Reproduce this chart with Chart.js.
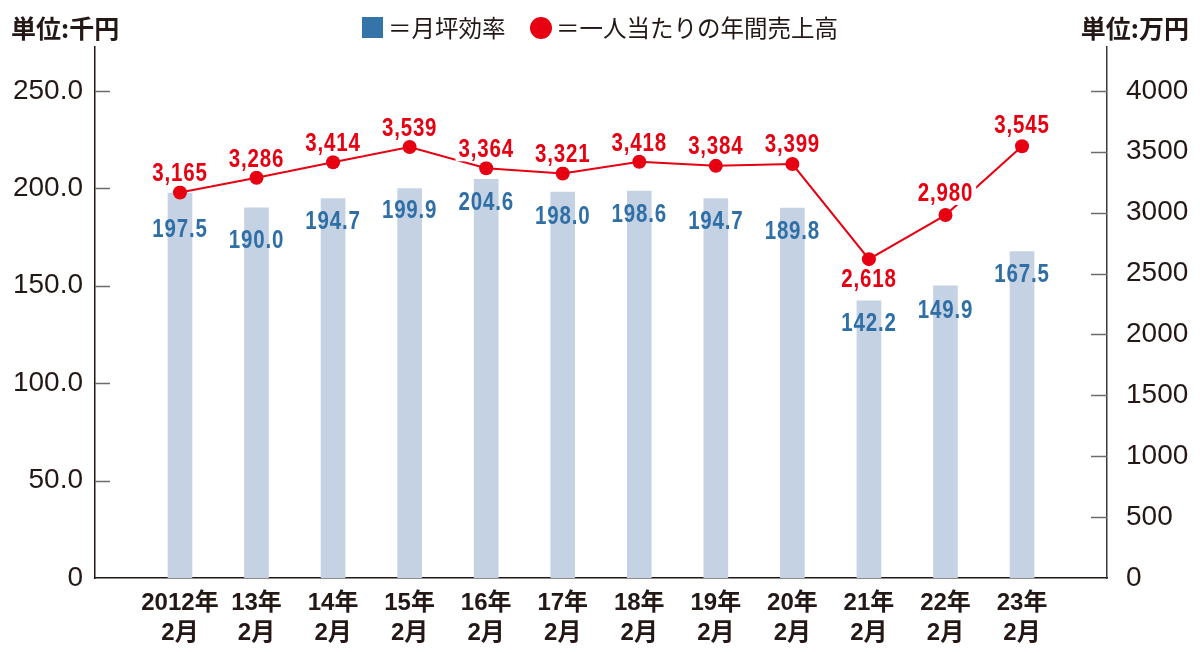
<!DOCTYPE html>
<html lang="ja">
<head>
<meta charset="utf-8">
<title>月坪効率と一人当たりの年間売上高</title>
<script src="https://cdn.jsdelivr.net/npm/chart.js@4.4.1/dist/chart.umd.min.js"></script>
<style>
  html, body { margin: 0; padding: 0; background: #fff; }
  #wrap { width: 1200px; height: 653px; }
</style>
</head>
<body>
<div id="wrap"><canvas id="grafico" width="1200" height="653"></canvas></div>
<script>
// dados
const categories = [
  ['2012年', '2月'], ['13年', '2月'], ['14年', '2月'], ['15年', '2月'],
  ['16年', '2月'], ['17年', '2月'], ['18年', '2月'], ['19年', '2月'],
  ['20年', '2月'], ['21年', '2月'], ['22年', '2月'], ['23年', '2月']
];
const tsuboValues = [197.5, 190.0, 194.7, 199.9, 204.6, 198.0, 198.6, 194.7, 189.8, 142.2, 149.9, 167.5];
const salesValues = [3165, 3286, 3414, 3539, 3364, 3321, 3418, 3384, 3399, 2618, 2980, 3545];
const leftTicks = [0, 50, 100, 150, 200, 250];
const rightTicks = [0, 500, 1000, 1500, 2000, 2500, 3000, 3500, 4000];
const legendLabels = ['＝月坪効率', '＝一人当たりの年間売上高'];
const unitLeft = '単位:千円';
const unitRight = '単位:万円';

// estilos
const RED = '#e60012';
const BLUE_TXT = '#2f6fa6';
const BLUE_KEY = '#3474a8';
const BAR = '#c5d2e4';
const INK = '#231815';
const FONT = "'Liberation Sans', Arial, 'Noto Sans CJK JP', sans-serif";
const JP_FONT = "'Noto Sans CJK JP', 'Noto Sans CJK SC', sans-serif";
const NARROW = 0.82; // compressão horizontal dos números (fonte condensada)
// deslocamento vertical dos rótulos (px)
const barLabelShift = [37, 33, 24, 23, 24, 25, 24, 24, 24, 23, 25, 24];
const lineLabelShift = [-18, -18, -18, -18, -18, -18, -18, -19, -19, 21, -21, -20];

function textoEstreito(ctx, txt, x, y) {
  ctx.save();
  ctx.translate(x, y);
  ctx.scale(NARROW, 1);
  ctx.fillText(txt, 0, 0);
  ctx.restore();
}

const extras = {
  id: 'extras',
  afterDatasetsDraw(chart) {
    const ctx = chart.ctx;
    ctx.save();
    ctx.textAlign = 'center';
    ctx.textBaseline = 'middle';
    ctx.font = 'bold 25px ' + FONT;
    ctx.letterSpacing = '1px';
    ctx.fillStyle = BLUE_TXT;
    chart.getDatasetMeta(1).data.forEach((bar, i) => {
      textoEstreito(ctx, tsuboValues[i].toFixed(1), bar.x, bar.y + barLabelShift[i]);
    });
    chart.getDatasetMeta(0).data.forEach((pt, i) => {
      const txt = salesValues[i].toLocaleString('en-US');
      const y = pt.y + lineLabelShift[i];
      const w = ctx.measureText(txt).width * NARROW;
      ctx.fillStyle = '#fff';
      ctx.fillRect(pt.x - w / 2 - 3, y - 11, w + 6, 22);
      ctx.fillStyle = RED;
      textoEstreito(ctx, txt, pt.x, y);
    });
    ctx.restore();
  },
  afterDraw(chart) {
    const ctx = chart.ctx;
    const area = chart.chartArea;
    const yl = chart.scales.y;
    const yr = chart.scales.y1;
    ctx.save();
    // marcas internas dos eixos
    ctx.strokeStyle = '#6b6b6b';
    ctx.lineWidth = 1.5;
    yl.ticks.forEach(t => {
      if (t.value === 0) return;
      const py = Math.round(yl.getPixelForValue(t.value)) + 0.5;
      ctx.beginPath(); ctx.moveTo(area.left, py); ctx.lineTo(area.left + 15, py); ctx.stroke();
    });
    yr.ticks.forEach(t => {
      if (t.value === 0) return;
      const py = Math.round(yr.getPixelForValue(t.value)) + 0.5;
      ctx.beginPath(); ctx.moveTo(area.right - 16, py); ctx.lineTo(area.right, py); ctx.stroke();
    });
    // unidades
    ctx.fillStyle = INK;
    ctx.textBaseline = 'middle';
    ctx.font = 'bold 25px ' + JP_FONT;
    ctx.textAlign = 'left';
    ctx.fillText(unitLeft, 11, 28);
    ctx.textAlign = 'right';
    ctx.fillText(unitRight, 1189, 28);
    // legenda
    ctx.textAlign = 'left';
    ctx.font = '23.5px ' + JP_FONT;
    ctx.fillStyle = BLUE_KEY;
    ctx.fillRect(362, 17, 21, 21);
    ctx.fillStyle = INK;
    ctx.fillText(legendLabels[0], 388, 28);
    ctx.fillStyle = RED;
    ctx.beginPath(); ctx.arc(541, 28, 11, 0, Math.PI * 2); ctx.fill();
    ctx.fillStyle = INK;
    ctx.fillText(legendLabels[1], 556, 28);
    ctx.restore();
  }
};

const ctx = document.getElementById('grafico').getContext('2d');

new Chart(ctx, {
  type: 'bar',
  data: {
    datasets: [
      {
        type: 'line',
        label: legendLabels[1],
        data: salesValues.map((v, i) => ({ x: i, y: v })),
        yAxisID: 'y1',
        borderColor: RED,
        borderWidth: 2,
        backgroundColor: RED,
        pointRadius: 7,
        pointBorderWidth: 0,
        pointBackgroundColor: RED,
        tension: 0
      },
      {
        type: 'bar',
        label: legendLabels[0],
        data: tsuboValues.map((v, i) => ({ x: i, y: v })),
        yAxisID: 'y',
        backgroundColor: BAR,
        barThickness: 24
      }
    ]
  },
  options: {
    responsive: false,
    animation: false,
    devicePixelRatio: 1,
    layout: { padding: { top: 47, left: 0, right: 0, bottom: 0 } },
    plugins: { legend: { display: false }, tooltip: { enabled: false } },
    scales: {
      x: {
        type: 'linear',
        offset: false,
        min: -1.11,
        max: categories.length - 1 + 1.11,
        grid: { display: false, drawTicks: false },
        border: { display: true, color: INK, width: 1.5 },
        afterBuildTicks: s => { s.ticks = categories.map((c, i) => ({ value: i })); },
        afterFit: s => { s.height = 75; },
        ticks: {
          autoSkip: false,
          maxRotation: 0,
          minRotation: 0,
          padding: 10,
          color: INK,
          font: { family: FONT, size: 24, weight: 'bold', lineHeight: 1.25 },
          callback: v => categories[v]
        }
      },
      y: {
        position: 'left',
        min: 0,
        max: 272.5,
        grid: { display: false, drawTicks: false },
        border: { display: true, color: INK, width: 1.5 },
        afterBuildTicks: s => { s.ticks = leftTicks.map(v => ({ value: v })); },
        afterFit: s => { s.width = 95; },
        ticks: {
          padding: 12,
          color: INK,
          font: { family: FONT, size: 28 },
          callback: v => v === 0 ? '0' : v.toFixed(1)
        }
      },
      y1: {
        position: 'right',
        min: 0,
        max: 4360,
        grid: { display: false, drawTicks: false },
        border: { display: true, color: '#3a3a3a', width: 1.5 },
        afterBuildTicks: s => { s.ticks = rightTicks.map(v => ({ value: v })); },
        afterFit: s => { s.width = 93; },
        ticks: {
          padding: 19,
          color: INK,
          font: { family: FONT, size: 28 },
          callback: v => String(v)
        }
      }
    }
  },
  plugins: [extras]
});
</script>
</body>
</html>
